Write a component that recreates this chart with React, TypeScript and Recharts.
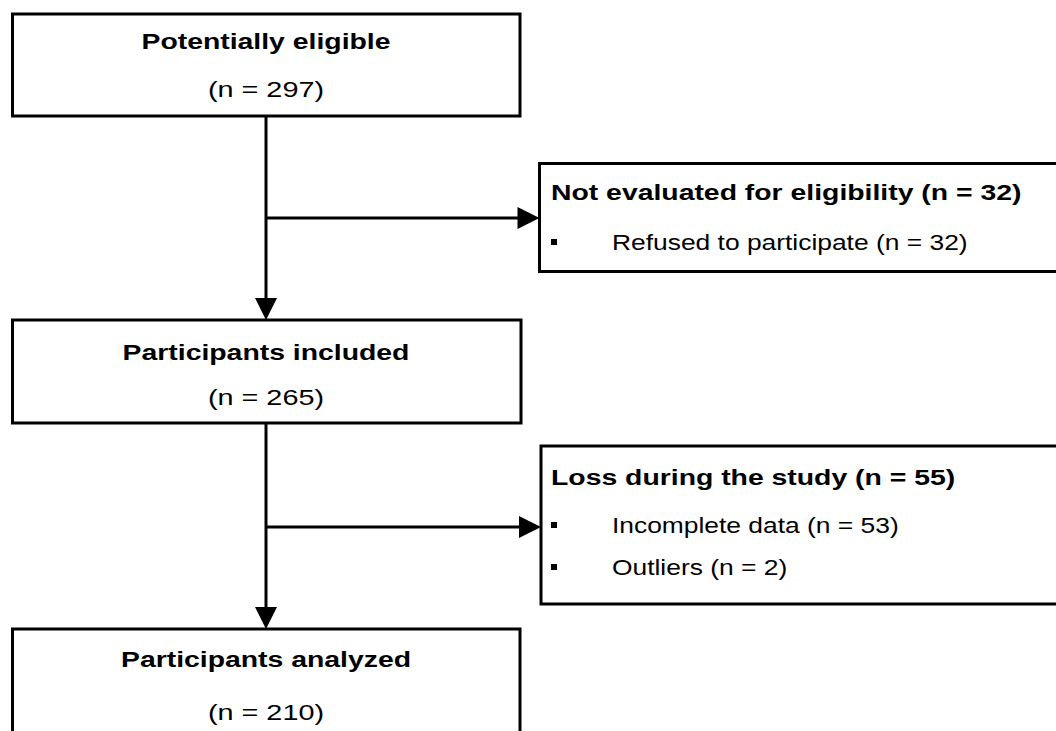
import React from 'react';
import { ComposedChart, XAxis, YAxis, ReferenceArea, ReferenceLine, Scatter } from 'recharts';

// ---- Flow data ----
const stageTitles = ['Potentially eligible', 'Participants included', 'Participants analyzed'];
const stageCounts = [297, 265, 210];
const exclusionTitles = ['Not evaluated for eligibility', 'Loss during the study'];
const exclusionCounts = [32, 55];
const exclusionReasons = [['Refused to participate'], ['Incomplete data', 'Outliers']];
const exclusionReasonCounts = [[32], [53, 2]];

// ---- Layout (diagram coordinate space) ----
const W = 1056;
const H = 731;
const stageBoxes = [
  { x1: 12.5, x2: 520, y1: 14, y2: 116 },
  { x1: 12.5, x2: 521, y1: 320, y2: 423 },
  { x1: 12.5, x2: 520, y1: 629, y2: 780 },
];
const exclusionBoxes = [
  { x1: 539.5, x2: 1080, y1: 163.5, y2: 271.5 },
  { x1: 541, x2: 1080, y1: 446, y2: 604 },
];
const spineX = 266;
const branchY = [218, 527];
const stageTitleY = [49, 360, 667];
const stageCountY = [97, 405, 720];
const exclTitleY = [200, 485];
const exclReasonY = [[250], [533, 575]];
const exclTextX = 551;
const bulletX = 554;
const reasonX = 612;
const ARROW = 22;

const FONT = '"Liberation Sans", Arial, sans-serif';
const FS = 22;
const SX = 1.2;   // reason lines
const SXB = 1.29; // bold titles
const SXC = 1.31; // centred counts

type Kind = 'title' | 'count' | 'reason';
type TextItem = { x: number; y: number; text: string; kind: Kind; anchor: 'start' | 'middle' };
const textItems: TextItem[] = [];
stageTitles.forEach((t, i) => {
  textItems.push({ x: spineX, y: stageTitleY[i], text: t, kind: 'title', anchor: 'middle' });
  textItems.push({ x: spineX, y: stageCountY[i], text: `(n = ${stageCounts[i]})`, kind: 'count', anchor: 'middle' });
});
exclusionTitles.forEach((t, i) => {
  textItems.push({ x: exclTextX, y: exclTitleY[i], text: `${t} (n = ${exclusionCounts[i]})`, kind: 'title', anchor: 'start' });
  exclusionReasons[i].forEach((r, j) => {
    textItems.push({ x: reasonX, y: exclReasonY[i][j], text: `${r} (n = ${exclusionReasonCounts[i][j]})`, kind: 'reason', anchor: 'start' });
  });
});

const bulletItems: { x: number; y: number }[] = [];
exclReasonY.forEach((ys) => ys.forEach((y) => bulletItems.push({ x: bulletX, y: y - 8 })));

type ArrowItem = { x: number; y: number; dir: 'down' | 'right' };
const arrowItems: ArrowItem[] = [
  { x: spineX, y: stageBoxes[1].y1, dir: 'down' },
  { x: spineX, y: stageBoxes[2].y1, dir: 'down' },
  { x: exclusionBoxes[0].x1, y: branchY[0], dir: 'right' },
  { x: exclusionBoxes[1].x1, y: branchY[1], dir: 'right' },
];

const TextShape = (props: any) => {
  const { cx, cy, payload } = props;
  if (cx == null || cy == null) return null;
  const k: Kind = payload.kind;
  const s = k === 'title' ? SXB : k === 'count' ? SXC : SX;
  return (
    <text
      x={cx}
      y={cy}
      textAnchor={payload.anchor}
      fontFamily={FONT}
      fontSize={FS}
      fontWeight={k === 'title' ? 700 : 400}
      fill="#000"
      transform={`translate(${cx},${cy}) scale(${s},1) translate(${-cx},${-cy})`}
    >
      {payload.text}
    </text>
  );
};

const BulletShape = (props: any) => {
  const { cx, cy } = props;
  return <rect x={cx - 3} y={cy - 3} width={6} height={6} fill="#000" />;
};

const ArrowShape = (props: any) => {
  const { cx, cy, payload } = props;
  const h = ARROW / 2;
  const d =
    payload.dir === 'down'
      ? `M${cx - h},${cy - ARROW} L${cx + h},${cy - ARROW} L${cx},${cy} Z`
      : `M${cx - ARROW},${cy - h} L${cx - ARROW},${cy + h} L${cx},${cy} Z`;
  return <path d={d} fill="#000" />;
};

export default function App() {
  return (
    <div style={{ position: 'absolute', left: 0, top: 0, background: '#fff' }}>
      <ComposedChart width={W} height={H} margin={{ top: 0, right: 0, bottom: 0, left: 0 }}>
        <XAxis type="number" dataKey="x" domain={[0, W]} hide allowDataOverflow />
        <YAxis type="number" dataKey="y" domain={[0, H]} reversed hide allowDataOverflow />
        {/* connector lines */}
        <ReferenceLine
          segment={[{ x: spineX, y: stageBoxes[0].y2 }, { x: spineX, y: stageBoxes[1].y1 - ARROW + 2 }]}
          stroke="#000" strokeWidth={3} ifOverflow="visible"
        />
        <ReferenceLine
          segment={[{ x: spineX, y: stageBoxes[1].y2 }, { x: spineX, y: stageBoxes[2].y1 - ARROW + 2 }]}
          stroke="#000" strokeWidth={3} ifOverflow="visible"
        />
        {branchY.map((y, i) => (
          <ReferenceLine
            key={`b${i}`}
            segment={[{ x: spineX, y }, { x: exclusionBoxes[i].x1 - ARROW + 2, y }]}
            stroke="#000" strokeWidth={3} ifOverflow="visible"
          />
        ))}
        {stageBoxes.map((b, i) => (
          <ReferenceArea key={`s${i}`} x1={b.x1} x2={b.x2} y1={b.y1} y2={b.y2}
            fill="#fff" fillOpacity={1} stroke="#000" strokeWidth={3} ifOverflow="visible" />
        ))}
        {exclusionBoxes.map((b, i) => (
          <ReferenceArea key={`e${i}`} x1={b.x1} x2={b.x2} y1={b.y1} y2={b.y2}
            fill="#fff" fillOpacity={1} stroke="#000" strokeWidth={3} ifOverflow="visible" />
        ))}
        <Scatter data={arrowItems} dataKey="y" shape={ArrowShape} isAnimationActive={false} />
        <Scatter data={bulletItems} dataKey="y" shape={BulletShape} isAnimationActive={false} />
        <Scatter data={textItems} dataKey="y" shape={TextShape} isAnimationActive={false} />
      </ComposedChart>
    </div>
  );
}
